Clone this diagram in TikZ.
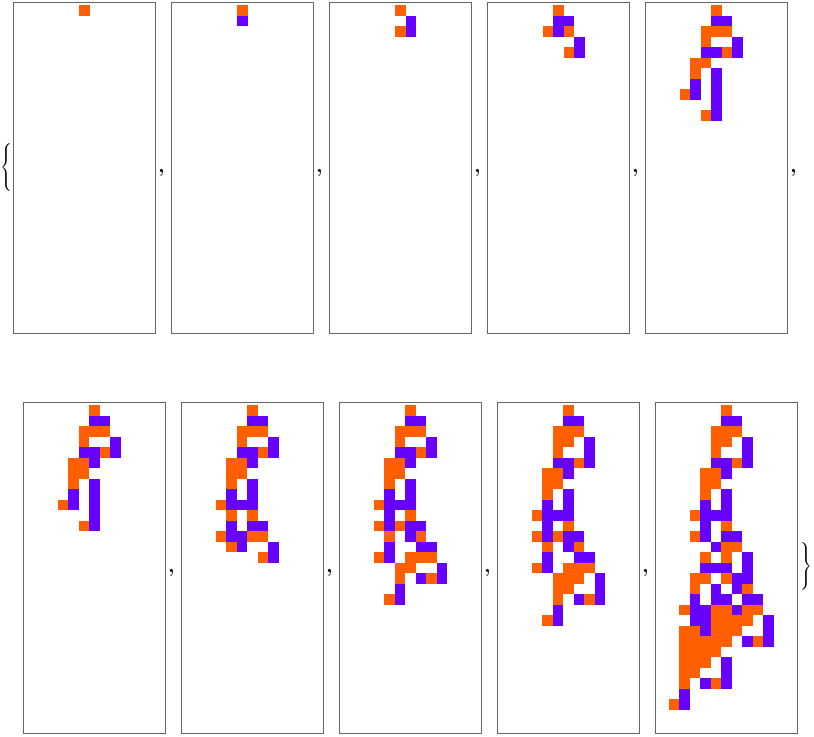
\documentclass[tikz,border=0pt]{standalone}
\definecolor{orangec}{RGB}{255,95,0}
\definecolor{purplec}{RGB}{102,0,255}
\definecolor{framec}{RGB}{102,102,102}
\tikzset{
  framestyle/.style={draw=framec, line width=0.7pt},
  commastyle/.style={anchor=base west, inner sep=0pt, font=\fontsize{16}{18}\selectfont\bfseries},
  bracestyle/.style={inner sep=0pt}
}
\newcommand\panelframe[2]{\draw[framestyle] (#1,#2) rectangle ++(142,331);}
\newcommand\ocells[3]{\foreach \c/\r in {#3} {\fill[orangec] ({#1+2.75+10.5*\c},{#2+2.75+10.5*\r}) rectangle ++(10.5,10.5);}}
\newcommand\pcells[3]{\foreach \c/\r in {#3} {\fill[purplec] ({#1+2.75+10.5*\c},{#2+2.75+10.5*\r}) rectangle ++(10.5,10.5);}}
\begin{document}
\begin{tikzpicture}[x=0.75pt,y=-0.75pt]
\useasboundingbox (0,0) rectangle (814,736);
% panel 1
\panelframe{13.3}{2.7}
\ocells{13.3}{2.7}{6/0}
% panel 2
\panelframe{171.3}{2.7}
\ocells{171.3}{2.7}{6/0}
\pcells{171.3}{2.7}{6/1}
% panel 3
\panelframe{329.3}{2.7}
\ocells{329.3}{2.7}{6/0,6/2}
\pcells{329.3}{2.7}{7/1,7/2}
% panel 4
\panelframe{487.3}{2.7}
\ocells{487.3}{2.7}{6/0,5/2,7/2,7/4}
\pcells{487.3}{2.7}{6/1,7/1,6/2,8/3,8/4}
% panel 5
\panelframe{645.3}{2.7}
\ocells{645.3}{2.7}{6/0,5/2,6/2,7/2,5/3,7/4,4/5,5/5,4/6,3/8,5/10}
\pcells{645.3}{2.7}{6/1,7/1,8/3,5/4,6/4,8/4,6/6,4/7,6/7,4/8,6/8,6/9,6/10}
% panel 6
\panelframe{23.3}{402.3}
\ocells{23.3}{402.3}{6/0,5/2,6/2,7/2,5/3,7/4,4/5,5/5,4/6,5/6,4/7,3/9,5/11}
\pcells{23.3}{402.3}{6/1,7/1,8/3,5/4,6/4,8/4,6/5,6/7,4/8,6/8,4/9,6/9,6/10,6/11}
% panel 7
\panelframe{181.3}{402.3}
\ocells{181.3}{402.3}{6/0,5/2,6/2,7/2,5/3,7/4,4/5,5/5,4/6,5/6,4/7,3/9,4/10,6/10,3/12,6/12,7/12,4/13,7/14}
\pcells{181.3}{402.3}{6/1,7/1,8/3,5/4,6/4,8/4,6/5,6/7,4/8,6/8,4/9,5/9,6/9,4/11,6/11,7/11,4/12,5/12,5/13,8/13,8/14}
% panel 8
\panelframe{339.3}{402.3}
\ocells{339.3}{402.3}{6/0,5/2,6/2,7/2,5/3,7/4,4/5,5/5,4/6,5/6,4/7,3/9,6/10,3/11,5/11,4/12,7/12,3/14,6/14,7/14,8/14,5/15,6/15,5/16,8/16,4/18}
\pcells{339.3}{402.3}{6/1,7/1,8/3,5/4,6/4,8/4,6/5,6/7,4/8,6/8,4/9,5/9,6/9,4/10,4/11,6/11,7/11,6/12,4/13,7/13,8/13,4/14,9/15,7/16,9/16,5/17,5/18}
% panel 9
\panelframe{497.3}{402.3}
\ocells{497.3}{402.3}{6/0,5/2,6/2,7/2,5/3,6/3,5/4,7/5,4/6,5/6,4/7,5/7,4/8,3/10,6/11,3/12,5/12,4/13,7/13,3/15,6/15,7/15,8/15,5/16,6/16,7/16,5/17,6/17,5/18,8/18,4/20}
\pcells{497.3}{402.3}{6/1,7/1,8/3,8/4,5/5,6/5,8/5,6/6,6/8,4/9,6/9,4/10,5/10,6/10,4/11,4/12,6/12,7/12,6/13,4/14,7/14,8/14,4/15,9/16,9/17,7/18,9/18,5/19,5/20}
% panel 10
\panelframe{655.3}{402.3}
\ocells{655.3}{402.3}{6/0,5/2,6/2,7/2,5/3,6/3,5/4,7/5,4/6,5/6,4/7,5/7,4/8,3/10,6/11,3/12,6/13,7/13,4/14,6/14,3/16,4/16,6/16,3/17,8/17,2/19,5/19,6/19,8/19,9/19,5/20,6/20,7/20,8/20,2/21,3/21,5/21,6/21,7/21,2/22,3/22,4/22,5/22,6/22,9/22,2/23,3/23,4/23,5/23,2/24,3/24,4/24,2/25,3/25,2/26,5/26,1/28}
\pcells{655.3}{402.3}{6/1,7/1,8/3,8/4,5/5,6/5,8/5,6/6,6/8,4/9,6/9,4/10,5/10,6/10,4/11,4/12,6/12,7/12,5/13,8/14,4/15,5/15,6/15,8/15,7/16,8/16,5/17,7/17,3/18,5/18,6/18,8/18,9/18,3/19,4/19,7/19,3/20,4/20,10/20,4/21,10/21,8/22,10/22,6/24,6/25,4/26,6/26,2/27,2/28}
% braces
\node[bracestyle] (lb) at (7.5,168) {$\left\{\vrule width 0pt height 17pt depth 17pt\right.$};
\node[bracestyle] (rb) at (806,567.8) {$\left.\vrule width 0pt height 17pt depth 17pt\right\}$};
% commas
\node[commastyle] (c1) at (157.8,172) {,};
\node[commastyle] (c2) at (315.8,172) {,};
\node[commastyle] (c3) at (473.8,172) {,};
\node[commastyle] (c4) at (631.8,172) {,};
\node[commastyle] (c5) at (789.8,172) {,};
\node[commastyle] (c6) at (167.8,572) {,};
\node[commastyle] (c7) at (325.8,572) {,};
\node[commastyle] (c8) at (483.8,572) {,};
\node[commastyle] (c9) at (641.8,572) {,};
\end{tikzpicture}
\end{document}
